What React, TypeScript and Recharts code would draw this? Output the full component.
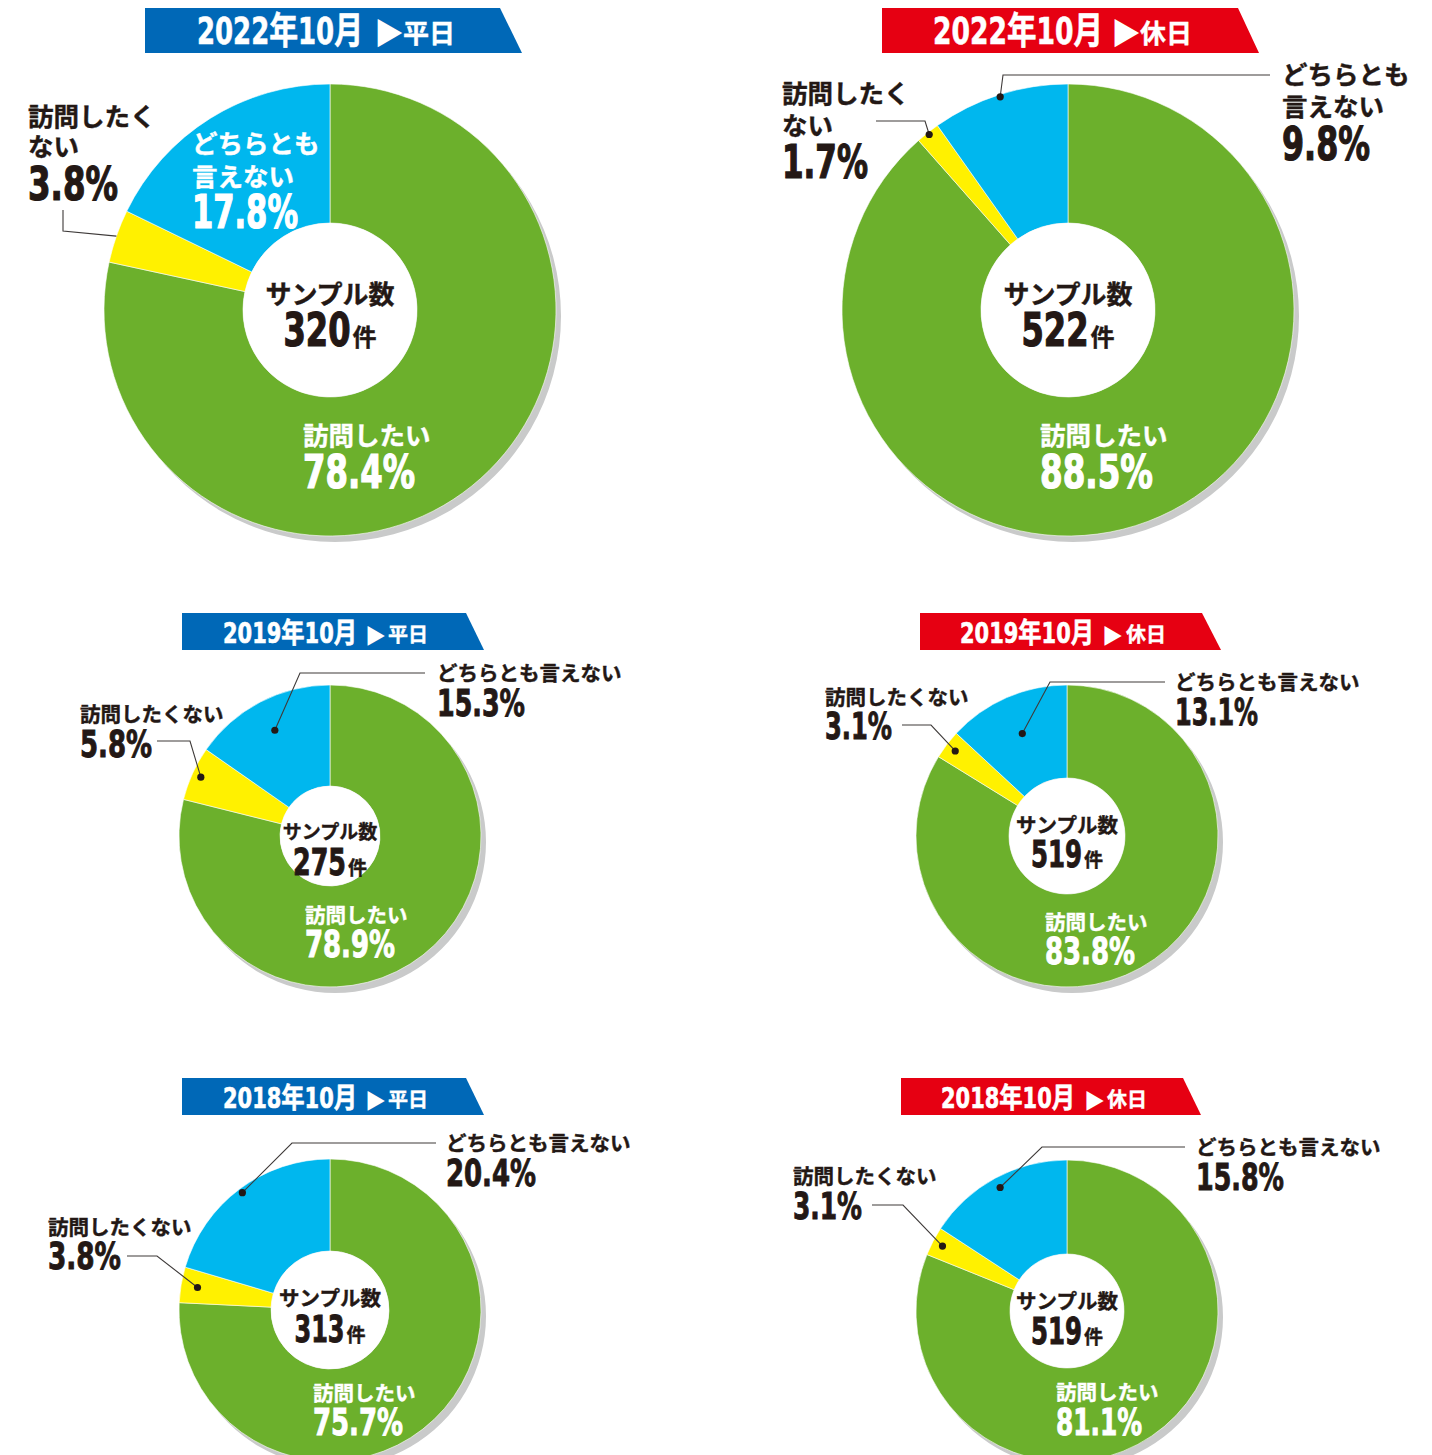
import React from 'react';
import { PieChart, Pie, Cell } from 'recharts';

// ---------- data ----------
const categories = ['訪問したい', '訪問したくない', 'どちらとも言えない'];
const periods = ['2022年10月', '2022年10月', '2019年10月', '2019年10月', '2018年10月', '2018年10月'];
const dayTypes = ['平日', '休日', '平日', '休日', '平日', '休日'];
const sampleCounts = [320, 522, 275, 519, 313, 519];
const wantValues = [78.4, 88.5, 78.9, 83.8, 75.7, 81.1];
const notWantValues = [3.8, 1.7, 5.8, 3.1, 3.8, 3.1];
const neutralValues = [17.8, 9.8, 15.3, 13.1, 20.4, 15.8];

// ---------- style ----------
const W = 1432;
const H = 1455;
const DARK = '#231815';
const BLUE = '#0068b7';
const RED = '#e60012';
const SHADOW = '#c9caca';
const LEADER = '#3e3a39';
const sliceColors = ['#6cb02c', '#fff100', '#00b7ee'];
const NUM_FONT = '"Liberation Sans Narrow", "Arial Narrow", "DejaVu Sans Condensed", "Noto Sans CJK JP", sans-serif';
const JP_FONT = '"Noto Sans CJK JP", "Noto Sans", sans-serif';

type Pt = [number, number];
interface Callout {
  x: number;
  base: number[];
  breakAt?: number;
  pctBase: number;
  pctW: number;
  fill: string;
  leader?: Pt[];
  rf?: number;
  dot?: boolean;
}
interface Layout {
  cx: number; cy: number; r: number; rIn: number; big: boolean;
  banner: { x0: number; y0: number; x1: number; x2: number; y1: number; color: string; dateX: number; dateW: number; arrowX: number; dayX: number; base: number };
  center: { jpBase: number; numBase: number; jpSize: number; numW: number };
  callouts: Callout[]; // order: want, notWant, neutral
}

const layouts: Layout[] = [
  {
    cx: 330, cy: 310, r: 226, rIn: 87, big: true,
    banner: { x0: 145, y0: 8, x1: 500, x2: 522, y1: 53, color: BLUE, dateX: 197, dateW: 166, arrowX: 374, dayX: 403, base: 44 },
    center: { jpBase: 304, numBase: 346, jpSize: 26, numW: 67 },
    callouts: [
      { x: 303, base: [445], pctBase: 488, pctW: 112, fill: '#fff' },
      { x: 28, base: [126, 156], breakAt: 5, pctBase: 200, pctW: 90, fill: DARK, leader: [[63, 210], [63, 231]], rf: 1.0, dot: false },
      { x: 192, base: [153, 186], breakAt: 5, pctBase: 228, pctW: 106, fill: '#fff' },
    ],
  },
  {
    cx: 1068, cy: 310, r: 226, rIn: 87, big: true,
    banner: { x0: 882, y0: 8, x1: 1238, x2: 1259, y1: 53, color: RED, dateX: 933, dateW: 170, arrowX: 1111, dayX: 1140, base: 44 },
    center: { jpBase: 304, numBase: 346, jpSize: 26, numW: 67 },
    callouts: [
      { x: 1040, base: [445], pctBase: 488, pctW: 113, fill: '#fff' },
      { x: 782, base: [103, 135], breakAt: 5, pctBase: 178, pctW: 86, fill: DARK, leader: [[876, 121], [925, 121]], rf: 0.99, dot: true },
      { x: 1282, base: [84, 116], breakAt: 5, pctBase: 160, pctW: 88, fill: DARK, leader: [[1270, 75], [1003, 75]], rf: 0.99, dot: true },
    ],
  },
  {
    cx: 330, cy: 836, r: 151, rIn: 50, big: false,
    banner: { x0: 182, y0: 613, x1: 466, x2: 484, y1: 650, color: BLUE, dateX: 223, dateW: 134, arrowX: 365, dayX: 388, base: 643 },
    center: { jpBase: 839, numBase: 875, jpSize: 19, numW: 53 },
    callouts: [
      { x: 305, base: [923], pctBase: 957, pctW: 90, fill: '#fff' },
      { x: 80, base: [722], pctBase: 757, pctW: 72, fill: DARK, leader: [[157, 741], [190, 741]], rf: 0.94, dot: true },
      { x: 437, base: [681], pctBase: 716, pctW: 88, fill: DARK, leader: [[425, 673], [300, 673]], rf: 0.79, dot: true },
    ],
  },
  {
    cx: 1067, cy: 836, r: 151, rIn: 58, big: false,
    banner: { x0: 920, y0: 613, x1: 1202, x2: 1221, y1: 650, color: RED, dateX: 960, dateW: 134, arrowX: 1102, dayX: 1126, base: 643 },
    center: { jpBase: 833, numBase: 867, jpSize: 20.5, numW: 51 },
    callouts: [
      { x: 1045, base: [930], pctBase: 964, pctW: 90, fill: '#fff' },
      { x: 825, base: [705], pctBase: 739, pctW: 67, fill: DARK, leader: [[902, 725], [931, 725]], rf: 0.93, dot: true },
      { x: 1175, base: [690], pctBase: 725, pctW: 83, fill: DARK, leader: [[1165, 682], [1050, 682]], rf: 0.74, dot: true },
    ],
  },
  {
    cx: 330, cy: 1310, r: 151, rIn: 59, big: false,
    banner: { x0: 182, y0: 1078, x1: 466, x2: 484, y1: 1115, color: BLUE, dateX: 223, dateW: 134, arrowX: 365, dayX: 388, base: 1108 },
    center: { jpBase: 1306, numBase: 1342, jpSize: 20.5, numW: 50 },
    callouts: [
      { x: 313, base: [1401], pctBase: 1435, pctW: 90, fill: '#fff' },
      { x: 48, base: [1235], pctBase: 1269, pctW: 73, fill: DARK, leader: [[127, 1256], [157, 1256]], rf: 0.89, dot: true },
      { x: 446, base: [1151], pctBase: 1186, pctW: 90, fill: DARK, leader: [[436, 1143], [292, 1143]], rf: 0.97, dot: true },
    ],
  },
  {
    cx: 1067, cy: 1311, r: 151, rIn: 57, big: false,
    banner: { x0: 901, y0: 1078, x1: 1183, x2: 1201, y1: 1115, color: RED, dateX: 941, dateW: 134, arrowX: 1084, dayX: 1107, base: 1108 },
    center: { jpBase: 1309, numBase: 1344, jpSize: 20.5, numW: 51 },
    callouts: [
      { x: 1056, base: [1400], pctBase: 1435, pctW: 86, fill: '#fff' },
      { x: 793, base: [1184], pctBase: 1219, pctW: 69, fill: DARK, leader: [[872, 1205], [903, 1205]], rf: 0.93, dot: true },
      { x: 1196, base: [1155], pctBase: 1190, pctW: 88, fill: DARK, leader: [[1185, 1147], [1042, 1147]], rf: 0.93, dot: true },
    ],
  },
];

const chartRows = (i: number) => [
  { name: categories[0], value: wantValues[i] },
  { name: categories[1], value: notWantValues[i] },
  { name: categories[2], value: neutralValues[i] },
];

// point at the middle angle of a slice (pie starts at top, runs clockwise)
function sliceMidPoint(i: number, k: number, cx: number, cy: number, R: number): Pt {
  const rows = chartRows(i);
  const total = rows.reduce((s, d) => s + d.value, 0);
  let before = 0;
  for (let j = 0; j < k; j++) before += rows[j].value;
  const mid = (before + rows[k].value / 2) / total;
  const a = ((90 - 360 * mid) * Math.PI) / 180;
  return [cx + R * Math.cos(a), cy - R * Math.sin(a)];
}

function Banner({ i, L }: { i: number; L: Layout }) {
  const b = L.banner;
  const dateSize = L.big ? 37 : 28;
  const arrowSize = L.big ? 30 : 21;
  const daySize = L.big ? 26 : 20;
  return (
    <g>
      <polygon points={`${b.x0},${b.y0} ${b.x1},${b.y0} ${b.x2},${b.y1} ${b.x0},${b.y1}`} fill={b.color} />
      <text y={b.base} fill="#fff" fontWeight={700}>
        <tspan x={b.dateX} y={b.base} stroke="#fff" strokeWidth={0.6} fontFamily={NUM_FONT} fontSize={dateSize}
          textLength={b.dateW} lengthAdjust="spacingAndGlyphs">{periods[i]}</tspan>
        <tspan x={b.arrowX} y={b.base} fontFamily={JP_FONT} fontSize={arrowSize}>▶</tspan>
        <tspan x={b.dayX} y={b.base - 1} stroke="#fff" strokeWidth={0.4} fontFamily={JP_FONT} fontSize={daySize}>{dayTypes[i]}</tspan>
      </text>
    </g>
  );
}

function Callouts({ i, L }: { i: number; L: Layout }) {
  const jpSize = L.big ? 25.5 : 20.5;
  const pctSize = L.big ? 46 : 37;
  const vals = [wantValues[i], notWantValues[i], neutralValues[i]];
  const kenSize = L.big ? 24 : 19;
  const gap = 2;
  const total = L.center.numW + gap + kenSize;
  const numX = L.cx - total / 2;
  return (
    <g>
      {L.callouts.map((c, k) => {
        const name = categories[k];
        const lines = c.breakAt ? [name.slice(0, c.breakAt), name.slice(c.breakAt)] : [name];
        let leader: React.ReactNode = null;
        if (c.leader) {
          const end = sliceMidPoint(i, k, L.cx, L.cy, L.r * (c.rf ?? 1));
          const pts = [...c.leader, end].map((p) => `${p[0]},${p[1]}`).join(' ');
          leader = (
            <g>
              <polyline points={pts} fill="none" stroke={LEADER} strokeWidth={1.1} />
              {c.dot ? <circle cx={end[0]} cy={end[1]} r={3.6} fill={DARK} /> : null}
            </g>
          );
        }
        return (
          <g key={k}>
            {leader}
            {lines.map((t, li) => (
              <text key={li} x={c.x} y={c.base[li]} fill={c.fill} stroke={c.fill} strokeWidth={0.4}
                fontFamily={JP_FONT} fontWeight={700} fontSize={jpSize}>{t}</text>
            ))}
            <text x={c.x} y={c.pctBase} fill={c.fill} stroke={c.fill} strokeWidth={L.big ? 1.2 : 0.9}
              fontFamily={NUM_FONT} fontWeight={700} fontSize={pctSize}
              textLength={c.pctW} lengthAdjust="spacingAndGlyphs">{`${vals[k]}%`}</text>
          </g>
        );
      })}
      <text x={L.cx} y={L.center.jpBase} textAnchor="middle" fill={DARK} stroke={DARK} strokeWidth={0.4}
        fontFamily={JP_FONT} fontWeight={700} fontSize={L.center.jpSize}>サンプル数</text>
      <text y={L.center.numBase} fill={DARK} stroke={DARK} fontWeight={700}>
        <tspan x={numX} y={L.center.numBase} strokeWidth={L.big ? 1.2 : 0.9} fontFamily={NUM_FONT}
          fontSize={L.big ? 46 : 37} textLength={L.center.numW} lengthAdjust="spacingAndGlyphs">{sampleCounts[i]}</tspan>
        <tspan x={numX + L.center.numW + gap} y={L.center.numBase} strokeWidth={0.4} fontFamily={JP_FONT}
          fontSize={kenSize}>件</tspan>
      </text>
    </g>
  );
}

export default function App() {
  return (
    <div style={{ position: 'absolute', left: 0, top: 0, width: W, height: H, background: '#fff', overflow: 'hidden' }}>
      <div style={{ position: 'absolute', left: 0, top: 0 }}>
        <PieChart width={W} height={H} margin={{ top: 0, right: 0, bottom: 0, left: 0 }}>
          {layouts.flatMap((L, i) => [
            <Pie key={`shadow-${i}`} data={[{ name: 'shadow', value: 1 }]} dataKey="value" cx={L.cx + 5} cy={L.cy + 6}
              innerRadius={0} outerRadius={L.r} fill={SHADOW} stroke="none" isAnimationActive={false} />,
            <Pie key={`pie-${i}`} data={chartRows(i)} dataKey="value" nameKey="name" cx={L.cx} cy={L.cy}
              innerRadius={L.rIn} outerRadius={L.r} startAngle={90} endAngle={-270}
              stroke="#ffffff" strokeWidth={0.6} isAnimationActive={false}>
              {chartRows(i).map((_, k) => <Cell key={k} fill={sliceColors[k]} />)}
            </Pie>,
            <Pie key={`hole-${i}`} data={[{ name: 'hole', value: 1 }]} dataKey="value" cx={L.cx} cy={L.cy}
              innerRadius={0} outerRadius={L.rIn} fill="#ffffff" stroke="none" isAnimationActive={false} />,
          ])}
        </PieChart>
      </div>
      <svg width={W} height={H} style={{ position: 'absolute', left: 0, top: 0, pointerEvents: 'none' }}>
        {layouts.map((L, i) => (
          <g key={i}>
            <Banner i={i} L={L} />
            <Callouts i={i} L={L} />
          </g>
        ))}
      </svg>
    </div>
  );
}
